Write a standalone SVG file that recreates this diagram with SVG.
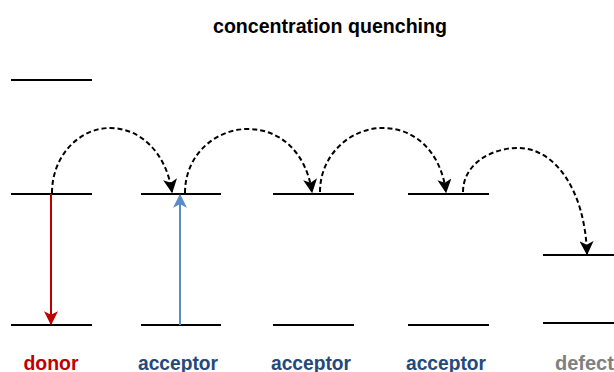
<svg xmlns="http://www.w3.org/2000/svg" width="614" height="372" viewBox="0 0 614 372">
<style>
.lvl{stroke:#000;stroke-width:2;fill:none}
.hop{stroke:#000;stroke-width:2;fill:none;stroke-dasharray:5 3}
.lbl{font-family:"Liberation Sans",Arial,sans-serif;font-weight:bold;font-size:20px;text-anchor:middle}
</style>
<defs>
<marker id="ak" markerUnits="userSpaceOnUse" markerWidth="14" markerHeight="14" viewBox="0 0 12 12" refX="11" refY="6" orient="auto"><path d="M0,0 L12,6 L0,12 L3,6 z" fill="#000"/></marker>
<marker id="ar" markerUnits="userSpaceOnUse" markerWidth="14" markerHeight="16" viewBox="0 0 12 12" refX="11" refY="6" orient="auto"><path d="M0,0 L12,6 L0,12 L3,6 z" fill="#C00000"/></marker>
<marker id="ab" markerUnits="userSpaceOnUse" markerWidth="14" markerHeight="16" viewBox="0 0 12 12" refX="11" refY="6" orient="auto"><path d="M0,0 L12,6 L0,12 L3,6 z" fill="#5B8BC8"/></marker>
</defs>
<text x="330" y="33" class="lbl" fill="#000" font-size="19" textLength="234" lengthAdjust="spacingAndGlyphs">concentration quenching</text>
<g id="donor">
<line class="lvl" x1="11" y1="80" x2="92" y2="80"/>
<line class="lvl" x1="11" y1="194" x2="92" y2="194"/>
<line class="lvl" x1="11" y1="325" x2="92" y2="325"/>
<text x="51" y="370" class="lbl" fill="#C00000" textLength="55" lengthAdjust="spacingAndGlyphs">donor</text>
</g>
<g id="acceptor1">
<line class="lvl" x1="141" y1="194" x2="221" y2="194"/>
<line class="lvl" x1="141" y1="325" x2="221" y2="325"/>
<text x="178" y="370" class="lbl" fill="#24497A" textLength="80" lengthAdjust="spacingAndGlyphs">acceptor</text>
</g>
<g id="acceptor2">
<line class="lvl" x1="273" y1="194" x2="354" y2="194"/>
<line class="lvl" x1="273" y1="325" x2="354" y2="325"/>
<text x="311" y="370" class="lbl" fill="#24497A" textLength="80" lengthAdjust="spacingAndGlyphs">acceptor</text>
</g>
<g id="acceptor3">
<line class="lvl" x1="408" y1="194" x2="489" y2="194"/>
<line class="lvl" x1="408" y1="325" x2="489" y2="325"/>
<text x="446" y="370" class="lbl" fill="#24497A" textLength="80" lengthAdjust="spacingAndGlyphs">acceptor</text>
</g>
<g id="defect">
<line class="lvl" x1="543" y1="255" x2="614" y2="255"/>
<line class="lvl" x1="543" y1="323" x2="614" y2="323"/>
<text x="555" y="370" class="lbl" fill="#808080" style="text-anchor:start">defect</text>
</g>
<g id="connectors">
<line x1="51" y1="194" x2="51" y2="324" stroke="#C00000" stroke-width="2" marker-end="url(#ar)"/>
<line x1="180" y1="325" x2="180" y2="195" stroke="#5B8BC8" stroke-width="2" marker-end="url(#ab)"/>
<path class="hop" d="M52,193 C52,155 80,128 110,128 C140,128 166,152 172,192" marker-end="url(#ak)"/>
<path class="hop" d="M185,193 C185,155 215,129 248,129 C280,129 306,152 312,192" marker-end="url(#ak)"/>
<path class="hop" d="M320,192 C320,155 350,128 383,128 C415,128 441,152 446,192" marker-end="url(#ak)"/>
<path class="hop" d="M463,192 C463,165 490,148 518,148 C555,148 585,190 587,254" marker-end="url(#ak)"/>
</g>
</svg>
